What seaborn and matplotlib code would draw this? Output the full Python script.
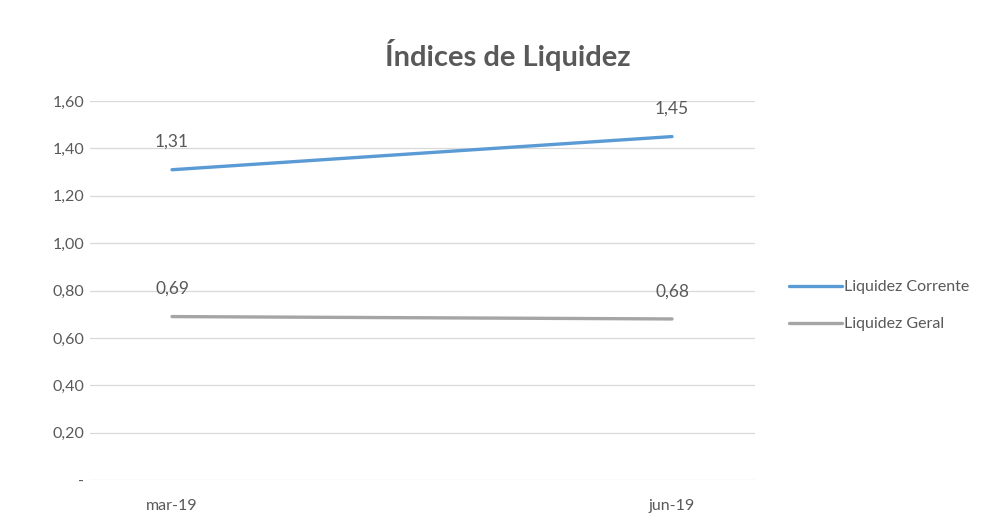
import pandas as pd
import matplotlib.pyplot as plt
import seaborn as sns

# Data
periods = ["mar-19", "jun-19"]
liquidez_corrente = [1.31, 1.45]
liquidez_geral = [0.69, 0.68]
series_names = ["Liquidez Corrente", "Liquidez Geral"]
y_ticks = [0, 0.2, 0.4, 0.6, 0.8, 1.0, 1.2, 1.4, 1.6]

df = pd.DataFrame({
    "periodo": periods * 2,
    "pos": list(range(len(periods))) * 2,
    "valor": liquidez_corrente + liquidez_geral,
    "serie": [series_names[0]] * 2 + [series_names[1]] * 2,
})

sns.set_theme(style="white")
plt.rcParams["font.family"] = ["Lato", "DejaVu Sans"]

text_color = "#595959"
palette = {series_names[0]: "#5B9BD5", series_names[1]: "#A5A5A5"}

fig = plt.figure(figsize=(9.85, 5.29), dpi=100)
ax = fig.add_axes([0.0914, 0.0926, 0.6751, 0.7164])

sns.lineplot(data=df, x="pos", y="valor", hue="serie", palette=palette,
             linewidth=2.4, ax=ax)

# value labels above the points
for _, row in df.iterrows():
    ax.annotate(f"{row['valor']:.2f}".replace(".", ","), (row["pos"], row["valor"]),
                xytext=(0, 20), textcoords="offset points", ha="center", va="center",
                fontsize=12.5, color=text_color)

ax.set_xlim(-0.164, 1.166)
ax.set_ylim(0, 1.6)
ax.set_xticks(range(len(periods)))
ax.set_xticklabels(periods)
ax.set_yticks(y_ticks)
ax.set_yticklabels(["-" if v == 0 else f"{v:.2f}".replace(".", ",") for v in y_ticks])
ax.tick_params(axis="both", colors=text_color, labelsize=11.5, length=0)
ax.tick_params(axis="y", pad=4)
ax.tick_params(axis="x", pad=14)
ax.grid(axis="y", color="#D9D9D9", linewidth=0.9)
ax.set_axisbelow(True)
for s in ax.spines.values():
    s.set_visible(False)
ax.set_xlabel("")
ax.set_ylabel("")

leg = ax.legend(loc="center left", bbox_to_anchor=(1.03, 0.46), frameon=False,
                handlelength=3.3, handletextpad=0.1, labelspacing=1.45, fontsize=11.5)
for t in leg.get_texts():
    t.set_color(text_color)

fig.text(508 / 985, 1 - 55 / 529, "Índices de Liquidez", ha="center", va="center",
         fontsize=21, fontweight="bold", color=text_color)

fig.savefig("out.png", dpi=100)
